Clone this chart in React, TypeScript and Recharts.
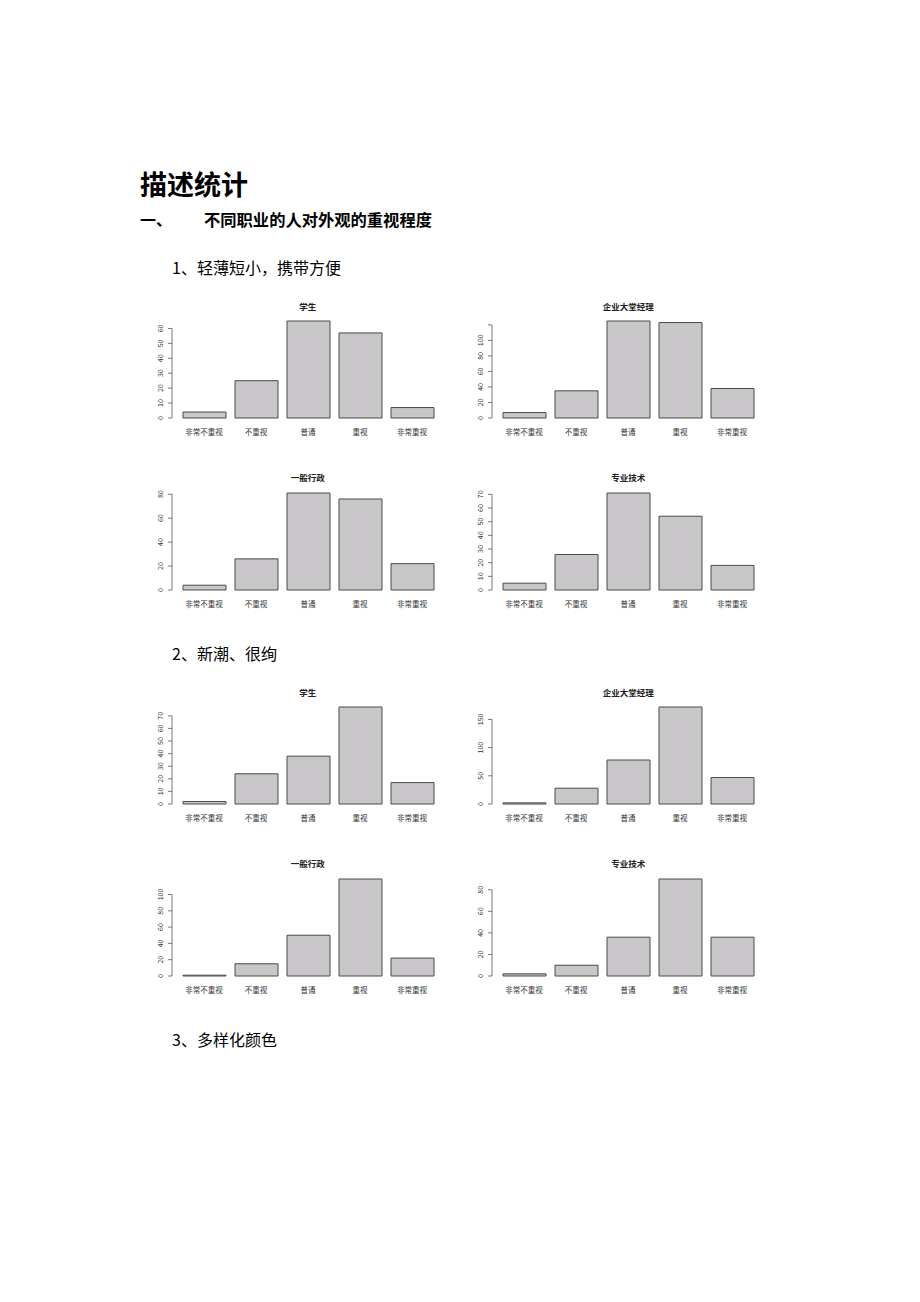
import React from 'react';
import { BarChart, Bar, XAxis, YAxis } from 'recharts';

const categories = ['非常不重视', '不重视', '普通', '重视', '非常重视'];

// 1、轻薄短小，携带方便
const s1Student = [4, 25, 65, 57, 7];
const s1Manager = [7, 35, 125, 123, 38];
const s1Admin = [4, 26, 81, 76, 22];
const s1Tech = [5, 26, 71, 54, 18];

// 2、新潮、很绚
const s2Student = [2, 24, 38, 77, 17];
const s2Manager = [2, 28, 78, 172, 47];
const s2Admin = [1, 15, 50, 119, 22];
const s2Tech = [2, 10, 36, 90, 36];

const ticks10to60 = [0, 10, 20, 30, 40, 50, 60];
const ticks20to120 = [0, 20, 40, 60, 80, 100, 120];
const ticks20to80 = [0, 20, 40, 60, 80];
const ticks10to70 = [0, 10, 20, 30, 40, 50, 60, 70];
const ticks50to150 = [0, 50, 100, 150];
const ticks20to100 = [0, 20, 40, 60, 80, 100];

// labels R dropped because they would collide
const hiddenLabels = [120];

const FONT = '"Noto Sans CJK SC", "Noto Sans", sans-serif';
const AXIS_W = 30;
const TOP = 22;
const PLOT_H = 97;
const XAXIS_H = 20;
const CHART_W = 300;
const CHART_H = TOP + PLOT_H + XAXIS_H + 1;
const BAR_FILL = '#c8c6c8';

type MiniProps = {
  title: string;
  values: number[];
  ticks: number[];
  axisX: number;
  baseY: number;
};

function MiniBar({ title, values, ticks, axisX, baseY }: MiniProps) {
  const data = categories.map((c, i) => ({ name: c, value: values[i] }));
  const top = ticks[ticks.length - 1];
  const plotBottom = TOP + PLOT_H;

  const yTick = (props: any) => {
    const { x, y, payload } = props;
    const v = payload.value;
    return (
      <g>
        <line x1={x - 4} y1={y} x2={x} y2={y} stroke="#555" strokeWidth={0.8} />
        {v === top && <line x1={x} y1={y} x2={x} y2={plotBottom} stroke="#555" strokeWidth={0.8} />}
        {!hiddenLabels.includes(v) && (
          <text
            transform={`translate(${x - 11},${y}) rotate(-90)`}
            textAnchor="middle"
            dy="0.35em"
            fontSize={7}
            fill="#333"
            fontFamily={FONT}
          >
            {v}
          </text>
        )}
      </g>
    );
  };

  const xTick = (props: any) => {
    const { x, y, payload } = props;
    return (
      <text x={x} y={y + 14} textAnchor="middle" dy="0.35em" fontSize={7.5} fill="#333" fontFamily={FONT}>
        {payload.value}
      </text>
    );
  };

  return (
    <>
      <div
        style={{
          position: 'absolute',
          left: axisX + 136 - 50,
          top: baseY - 112 - 4.7,
          width: 100,
          textAlign: 'center',
          fontFamily: FONT,
          fontSize: 8.5,
          lineHeight: 1,
          fontWeight: 'bold',
          color: '#222',
        }}
      >
        {title}
      </div>
      <div style={{ position: 'absolute', left: axisX - AXIS_W, top: baseY - PLOT_H - TOP }}>
        <BarChart
          width={CHART_W}
          height={CHART_H}
          data={data}
          margin={{ top: TOP, right: 4, bottom: 1, left: 0 }}
          barSize={43}
        >
          <XAxis
            dataKey="name"
            interval={0}
            axisLine={false}
            tickLine={false}
            tickSize={0}
            tickMargin={0}
            height={XAXIS_H}
            padding={{ left: 6, right: 0 }}
            tick={xTick}
          />
          <YAxis
            type="number"
            domain={[0, 'dataMax']}
            ticks={ticks}
            interval={0}
            width={AXIS_W}
            axisLine={false}
            tickLine={false}
            tickSize={0}
            tickMargin={0}
            tick={yTick}
          />
          <Bar dataKey="value" fill={BAR_FILL} stroke="#4a4a4a" strokeWidth={1} isAnimationActive={false} />
        </BarChart>
      </div>
    </>
  );
}

const LEFT_X = 171.7;
const RIGHT_X = 492.3;

export default function App() {
  const text = (t: string, left: number, top: number, size: number, bold = false) => (
    <div
      style={{
        position: 'absolute',
        left,
        top,
        fontFamily: FONT,
        fontSize: size,
        lineHeight: 1,
        fontWeight: bold ? 'bold' : 'normal',
        color: '#000',
        whiteSpace: 'nowrap',
      }}
    >
      {t}
    </div>
  );

  return (
    <div style={{ position: 'absolute', left: 0, top: 0, width: 920, height: 1302, background: '#fff' }}>
      {text('描述统计', 140, 169.5, 27, true)}
      {text('一、', 140, 211, 16, true)}
      {text('不同职业的人对外观的重视程度', 204, 211, 16.3, true)}
      {text('1、轻薄短小，携带方便', 172, 258.5, 16)}
      {text('2、新潮、很绚', 172, 645, 16)}
      {text('3、多样化颜色', 172, 1031, 16)}

      <MiniBar title="学生" values={s1Student} ticks={ticks10to60} axisX={LEFT_X} baseY={418.3} />
      <MiniBar title="企业大堂经理" values={s1Manager} ticks={ticks20to120} axisX={RIGHT_X} baseY={418.3} />
      <MiniBar title="一般行政" values={s1Admin} ticks={ticks20to80} axisX={LEFT_X} baseY={590} />
      <MiniBar title="专业技术" values={s1Tech} ticks={ticks10to70} axisX={RIGHT_X} baseY={590} />

      <MiniBar title="学生" values={s2Student} ticks={ticks10to70} axisX={LEFT_X} baseY={804.3} />
      <MiniBar title="企业大堂经理" values={s2Manager} ticks={ticks50to150} axisX={RIGHT_X} baseY={804.3} />
      <MiniBar title="一般行政" values={s2Admin} ticks={ticks20to100} axisX={LEFT_X} baseY={975.7} />
      <MiniBar title="专业技术" values={s2Tech} ticks={ticks20to80} axisX={RIGHT_X} baseY={975.7} />
    </div>
  );
}
